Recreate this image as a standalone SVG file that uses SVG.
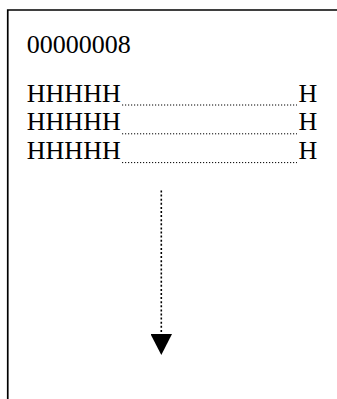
<svg xmlns="http://www.w3.org/2000/svg" width="337" height="399" viewBox="0 0 337 399">
  <style>
    .t { font-family: "Liberation Serif", "Times New Roman", serif; font-size: 26px; fill: #000; }
    .lead { stroke: #000; stroke-width: 1; stroke-dasharray: 1.2 1.8; fill: none; }
    .frame { stroke: #000; stroke-width: 1.7; fill: none; }
    .conn { stroke: #000; stroke-width: 1.6; stroke-dasharray: 2 2.1; fill: none; }
  </style>
  <defs>
    <marker id="arrow" markerUnits="userSpaceOnUse" markerWidth="21" markerHeight="21.5" refX="0" refY="10.75" orient="auto" viewBox="0 0 21 21.5">
      <path d="M0,0 L21,10.75 L0,21.5 Z" fill="#000" stroke="none"/>
    </marker>
  </defs>
  <rect width="337" height="399" fill="#fff"/>
  <g id="frame">
    <path class="frame" d="M7.75,399 V10 H337"/>
  </g>
  <g id="title">
    <text class="t" x="26.7" y="53">00000008</text>
  </g>
  <g id="row1">
    <text class="t" x="26.8" y="101.5">HHHHH</text>
    <line class="lead" x1="122" y1="105" x2="297" y2="105"/>
    <text class="t" x="298.5" y="101.5">H</text>
  </g>
  <g id="row2">
    <text class="t" x="26.8" y="130.3">HHHHH</text>
    <line class="lead" x1="122" y1="133.8" x2="297" y2="133.8"/>
    <text class="t" x="298.5" y="130.3">H</text>
  </g>
  <g id="row3">
    <text class="t" x="26.8" y="159.1">HHHHH</text>
    <line class="lead" x1="122" y1="162.6" x2="297" y2="162.6"/>
    <text class="t" x="298.5" y="159.1">H</text>
  </g>
  <g id="connectors">
    <line class="conn" x1="161.3" y1="190.5" x2="161.3" y2="334" marker-end="url(#arrow)"/>
  </g>
</svg>
